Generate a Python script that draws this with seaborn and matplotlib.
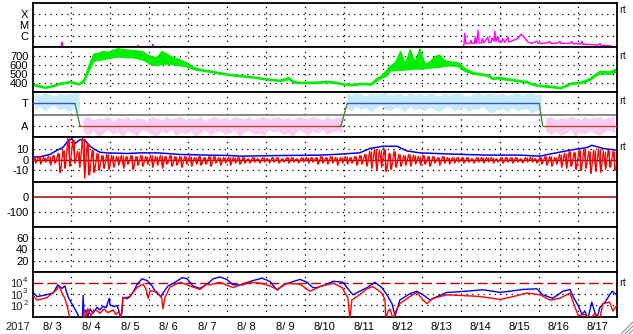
import numpy as np
import pandas as pd
import matplotlib
matplotlib.use("Agg")
import matplotlib.pyplot as plt
import seaborn as sns
from matplotlib.lines import Line2D
from matplotlib.ticker import NullLocator

sns.set_style("white")
plt.rcParams['font.family'] = ['Liberation Sans', 'DejaVu Sans']

# ---------------- data (time in days since 8/3 00:00) ----------------
day_labels = ['8/ 3', '8/ 4', '8/ 5', '8/ 6', '8/ 7', '8/ 8', '8/ 9', '8/10',
              '8/11', '8/12', '8/13', '8/14', '8/15', '8/16', '8/17']
year_label = '2017'

# X-ray flux (W/m^2)
xray_t = [0.0, 0.73, 0.75, 0.77, 0.79, 1.0, 1.01, 1.02, 2.70, 2.71, 2.72, 2.93, 2.94, 2.95,
          3.08, 3.09, 3.10, 3.39, 3.40, 3.41, 11.05, 11.08, 11.10, 11.13, 11.23, 11.26, 11.28,
          11.35, 11.37, 11.39, 11.41, 11.44, 11.47, 11.53, 11.55, 11.59, 11.69, 11.72, 11.78,
          11.80, 11.85, 11.87, 11.90, 11.95, 11.98, 12.05, 12.07, 12.13, 12.21, 12.23, 12.30,
          12.34, 12.40, 12.47, 12.54, 12.59, 12.65, 12.72, 12.82, 12.95, 12.98, 13.16, 13.29,
          13.31, 13.49, 13.54, 13.57, 13.80, 13.85, 13.88, 14.06, 14.11, 14.13, 14.32, 14.52,
          14.57, 14.60, 14.77, 14.88, 14.90, 15.0]
xray_v = [5e-8, 5e-8, 3e-7, 2.5e-7, 5e-8, 5e-8, 1.2e-7, 5e-8, 5e-8, 1.5e-7, 5e-8, 5e-8, 1.3e-7, 5e-8,
          5e-8, 1.9e-7, 5e-8, 5e-8, 1.3e-7, 5e-8, 5e-8, 2.2e-7, 1.8e-6, 2.2e-7, 2.3e-7, 4.3e-7, 2.3e-7,
          2.4e-7, 9e-7, 2.4e-7, 2.5e-7, 3.4e-6, 2.4e-7, 2.6e-7, 6e-7, 2.6e-7, 8e-7, 2.6e-7, 3e-7,
          7e-7, 3.5e-7, 2.8e-6, 3.5e-7, 9.8e-7, 3e-7, 3e-7, 6e-7, 2.8e-7, 8e-7, 3e-7, 3.5e-7,
          4.3e-7, 5e-7, 6.5e-7, 1.5e-6, 1.1e-6, 6e-7, 3e-7, 2.3e-7, 3.5e-7, 2.3e-7, 2.4e-7, 3.3e-7,
          2.2e-7, 2.4e-7, 3.5e-7, 2.3e-7, 2.2e-7, 3.3e-7, 2.1e-7, 2.0e-7, 3.5e-7, 1.9e-7, 1.8e-7, 1.6e-7,
          2.2e-7, 1.5e-7, 1.4e-7, 1.3e-7, 5e-8, 5e-8]

# Solar wind speed (km/s), 3-hour bins, upper/lower envelope
bin_step = 0.125
speed_hi = [390, 378, 362, 372, 385, 408, 412, 428, 415, 400, 445, 600, 730, 740, 760, 750, 775, 790, 780, 775,
            770, 765, 760, 720, 700, 690, 760, 730, 700, 680, 660, 635, 600, 572, 560, 550, 542, 532, 524, 515,
            505, 498, 492, 486, 482, 475, 466, 458, 452, 446, 440, 450, 468, 428, 418, 416, 418, 418, 420, 424,
            428, 422, 416, 402, 396, 392, 398, 405, 403, 400, 455, 485, 540, 600, 640, 760, 620, 780, 640, 790,
            620, 640, 700, 720, 660, 645, 640, 630, 580, 548, 525, 516, 508, 498, 462, 472, 464, 456, 448, 440,
            432, 426, 402, 388, 382, 378, 372, 366, 360, 384, 408, 414, 418, 436, 462, 505, 540, 535, 532, 560]
speed_lo = [375, 362, 350, 358, 372, 392, 398, 412, 400, 388, 420, 540, 650, 660, 670, 680, 690, 700, 695, 690,
            690, 680, 665, 640, 610, 605, 615, 620, 615, 605, 600, 590, 570, 552, 545, 536, 528, 518, 510, 500,
            492, 486, 480, 474, 468, 462, 454, 446, 440, 434, 428, 432, 448, 412, 404, 403, 402, 404, 405, 408,
            412, 408, 402, 388, 383, 378, 383, 390, 388, 385, 425, 460, 480, 545, 548, 550, 555, 560, 565, 565,
            568, 575, 580, 585, 595, 600, 598, 590, 545, 525, 505, 500, 492, 482, 446, 456, 446, 440, 432, 424,
            418, 410, 388, 372, 368, 362, 358, 350, 345, 368, 392, 398, 402, 415, 440, 480, 512, 508, 505, 525]

# IMF sector (T=+1, A=-1) and phi-angle cloud envelope
sector_t = [0.0, 1.09, 1.22, 7.92, 8.08, 13.01, 13.10, 15.0]
sector_v = [1, 1, -1, -1, 1, 1, -1, -1]
phi_hi = [1.9, 1.7, 1.95, 1.8, 1.6, 1.9, 1.75, 1.85, 1.95, 1.9,
          -0.3, -0.2, -0.5, -0.3, -0.4, -0.2, -0.6, -0.3, -0.4, -0.2,
          -0.5, -0.3, -0.4, -0.6, -0.2, -0.3, -0.5, -0.2, -0.4, -0.3,
          -0.2, -0.5, -0.3, -0.4, -0.2, -0.6, -0.3, -0.2, -0.4, -0.3,
          -0.5, -0.2, -0.3, -0.4, -0.2, -0.5, -0.3, -0.2, -0.4, -0.3,
          -0.2, -0.4, -0.3, -0.5, -0.2, -0.3, -0.4, -0.2, -0.3, -0.5,
          -0.2, -0.4, -0.3, -0.2,
          1.9, 1.7, 1.95, 1.8, 1.6, 1.9, 1.75, 1.85, 1.95, 1.7,
          1.8, 1.9, 1.6, 1.95, 1.75, 1.85, 1.7, 1.9, 1.8, 1.6,
          1.95, 1.7, 1.85, 1.9, 1.75, 1.6, 1.8, 1.95, 1.7, 1.9,
          1.85, 1.75, 1.9, 1.6, 1.8, 1.95, 1.7, 1.85, 1.9, 1.75, 1.8,
          -0.3, -0.2, -0.5, -0.3, -0.4, -0.2, -0.3, -0.5, -0.2, -0.4, -0.3, -0.2, -0.4, -0.3, -0.2]
phi_lo = [0.5, 0.8, 0.4, 0.7, 0.9, 0.5, 0.6, 0.3, 0.7, 0.2,
          -1.5, -1.8, -1.4, -1.9, -1.6, -1.3, -1.7, -1.5, -1.9, -1.4,
          -1.6, -1.8, -1.3, -1.5, -1.7, -1.9, -1.4, -1.6, -1.3, -1.8,
          -1.5, -1.7, -1.4, -1.9, -1.6, -1.3, -1.8, -1.5, -1.4, -1.7,
          -1.6, -1.3, -1.9, -1.5, -1.4, -1.7, -1.6, -1.8, -1.3, -1.5,
          -1.4, -1.7, -1.6, -1.9, -1.3, -1.5, -1.8, -1.4, -1.6, -1.3,
          -1.7, -1.5, -1.4, -1.6,
          0.6, 0.4, 0.8, 0.5, 0.7, 0.3, 0.6, 0.9, 0.5, 0.4,
          0.7, 0.6, 0.3, 0.8, 0.5, 0.6, 0.4, 0.7, 0.5, 0.3,
          0.6, 0.8, 0.4, 0.5, 0.7, 0.3, 0.6, 0.5, 0.8, 0.4,
          0.2, 0.5, 0.6, 0.3, 0.7, 0.4, 0.5, 0.6, 0.2, 0.4, 0.6,
          -1.5, -1.7, -1.4, -1.8, -1.6, -1.3, -1.9, -1.5, -1.7, -1.4, -1.6, -1.8, -1.5, -1.3, -1.6]

# IMF Bt and Bz (nT)
bt_t = [0.0, 0.19, 0.45, 0.63, 0.78, 0.89, 1.01, 1.09, 1.22, 1.35, 1.48, 1.60, 1.73, 1.91, 2.43,
        2.76, 3.20, 3.45, 3.79, 4.48, 4.99, 5.33, 5.84, 6.35, 6.87, 7.38, 7.89, 8.40, 8.66, 9.0,
        9.36, 9.61, 9.95, 10.8, 11.67, 12.52, 13.03, 13.36, 13.8, 14.24, 14.36, 14.65, 15.0]
bt = [2.5, 2.6, 4.8, 8.8, 11.3, 16.5, 19.6, 15, 18.7, 18, 12.5, 9.4, 6.9, 6.3, 5.7,
      6.3, 6.3, 5.7, 4.8, 4.2, 3.9, 3.2, 3.5, 3.8, 4.0, 4.2, 5.1, 6.3, 10.4, 12.5,
      12.5, 8.1, 6.3, 5.1, 4.2, 4.2, 3.2, 5.7, 8.8, 11.3, 13.4, 10.4, 8.8]
bz_hi = [2, 3, 2, 3, 4, 6, 9, 20, 18, 8, 20, 16, 9, 6, 4, 5, 4, 3, 4, 3,
         4, 3, 4, 3, 4, 3, 4, 3, 4, 3, 3, 3, 3, 2, 3, 2, 3, 3, 2, 2,
         2, 2, 2, 2, 1, 2, 1, 2, 1, 2, 2, 1, 2, 2, 1, 2, 2, 2, 2, 3,
         2, 3, 2, 2, 3, 2, 3, 4, 5, 8, 10, 9, 10, 6, 8, 5, 4, 5, 4, 3,
         4, 3, 3, 2, 3, 2, 2, 2, 2, 2, 1, 2, 2, 2, 2, 1, 2, 2, 2, 2,
         1, 2, 2, 1, 2, 3, 3, 2, 5, 6, 8, 7, 9, 10, 8, 9, 10, 8, 9, 8]
bz_lo = [-3, -4, -2, -5, -3, -12, -8, -6, -3, -7, -17, -14, -12, -10, -8, -9, -7, -5, -8, -4,
         -9, -5, -6, -4, -7, -5, -8, -4, -6, -5, -7, -4, -6, -4, -5, -4, -6, -3, -5, -3,
         -5, -3, -4, -3, -3, -2, -3, -2, -3, -2, -3, -2, -3, -2, -3, -2, -3, -2, -4, -3,
         -4, -3, -5, -3, -4, -3, -5, -4, -6, -8, -10, -7, -11, -9, -7, -6, -5, -6, -4, -5,
         -4, -6, -3, -5, -3, -4, -3, -2, -3, -2, -3, -2, -3, -2, -3, -2, -3, -2, -3, -2,
         -3, -2, -2, -3, -4, -5, -6, -4, -7, -8, -6, -9, -10, -8, -13, -11, -12, -9, -7, -10]

# Electron flux (log10 values), two channels
eb_t = [0.0, 0.12, 0.27, 0.53, 0.65, 0.76, 0.83, 0.91, 1.01, 1.14, 1.22, 1.28, 1.30, 1.32, 1.37,
        1.42, 1.48, 1.55, 1.66, 1.73, 1.81, 1.89, 1.97, 1.99, 2.09, 2.17, 2.22, 2.25, 2.30, 2.32,
        2.43, 2.50, 2.60, 2.68, 2.81, 2.94, 3.07, 3.15, 3.22, 3.30, 3.35, 3.48, 3.66, 3.84, 3.97,
        4.12, 4.30, 4.48, 4.64, 4.81, 4.89, 4.99, 5.15, 5.40, 5.58, 5.66, 5.84, 5.89, 6.10, 6.28,
        6.43, 6.69, 6.87, 7.05, 7.20, 7.30, 7.56, 7.72, 7.97, 8.15, 8.23, 8.40, 8.59, 8.79, 8.97,
        9.10, 9.23, 9.31, 9.43, 9.69, 9.87, 10.03, 10.21, 10.39, 10.64, 10.85, 11.23, 11.57, 12.0,
        12.26, 12.59, 12.95, 13.1, 13.36, 13.62, 13.80, 13.88, 14.01, 14.11, 14.18, 14.26, 14.36,
        14.49, 14.57, 14.70, 14.88, 15.0]
eb_log = [3.21, 2.79, 2.89, 3.11, 3.84, 3.52, 3.74, 2.79, 2.16, 1.36, 0.8, 0.8, 2.89, 1.2, 1.6,
          1.0, 1.7, 1.3, 1.84, 1.6, 1.93, 1.8, 2.64, 2.07, 1.9, 2.0, 1.5, 0.8, 1.4, 2.73,
          2.6, 2.79, 3.3, 3.84, 4.38, 4.22, 3.74, 3.27, 3.02, 2.79, 3.11, 3.74, 4.07, 4.48, 4.38,
          3.74, 3.52, 3.9, 4.38, 4.54, 4.45, 4.32, 3.84, 3.84, 4.13, 4.22, 4.38, 4.45, 4.13, 3.36,
          3.81, 4.13, 4.32, 4.07, 3.59, 3.59, 3.9, 4.16, 4.07, 3.27, 2.95, 3.27, 3.59, 4.07, 3.59,
          2.95, 2.16, 1.05, 2.48, 3.05, 3.27, 2.95, 2.48, 2.79, 3.17, 3.2, 3.3, 3.4, 3.17,
          3.27, 3.43, 3.49, 2.95, 2.64, 3.27, 3.43, 2.79, 2.0, 1.2, 1.52, 0.8, 2.3,
          0.8, 1.84, 2.3, 3.27, 2.95]
er_t = [0.0, 0.12, 0.37, 0.63, 0.68, 0.78, 0.83, 0.91, 0.96, 1.30, 1.32, 1.37, 1.42, 1.50, 1.58,
        1.66, 1.73, 1.84, 1.91, 1.99, 2.07, 2.14, 2.22, 2.27, 2.32, 2.50, 2.68, 2.84, 2.91, 2.97,
        3.02, 3.20, 3.32, 3.35, 3.40, 3.53, 3.79, 4.04, 4.30, 4.48, 4.56, 4.81, 5.15, 5.51, 5.84,
        6.10, 6.28, 6.53, 6.87, 7.12, 7.38, 7.72, 7.95, 8.10, 8.15, 8.20, 8.33, 8.59, 8.74, 8.97,
        9.05, 9.07, 9.13, 9.18, 9.26, 9.33, 9.43, 9.69, 9.87, 10.03, 10.13, 10.28, 10.64, 10.97,
        11.49, 12.0, 12.34, 12.69, 13.03, 13.29, 13.54, 13.80, 13.93, 14.01, 14.18, 14.31, 14.44,
        14.57, 14.64, 14.82, 14.90, 15.0]
er_log = [2.95, 2.48, 2.70, 3.43, 3.74, 2.95, 2.64, 1.68, 0.8, 0.8, 1.5, 0.9, 1.7, 1.1, 1.6,
          1.52, 1.3, 1.7, 1.4, 1.43, 1.6, 1.2, 1.5, 0.8, 2.64, 2.79, 3.59, 3.9, 3.5, 2.64,
          3.33, 3.21, 2.64, 1.7, 2.7, 3.65, 4.07, 3.74, 3.43, 3.9, 3.84, 4.07, 3.59, 4.07, 4.0,
          3.74, 3.43, 3.97, 3.9, 3.27, 3.68, 4.0, 3.59, 2.64, 0.8, 2.5, 2.79, 3.49, 3.68, 3.11,
          2.5, 0.8, 1.5, 1.68, 0.8, 1.5, 2.16, 2.79, 3.17, 2.48, 2.16, 2.64, 2.95, 2.9,
          2.8, 2.54, 2.79, 3.11, 2.95, 2.48, 2.64, 3.11, 1.84, 1.1, 1.2, 0.8, 1.3,
          0.8, 2.16, 2.3, 1.5, 2.0]
flux_ticks_exp = ['4', '3', '2']

# ---------------- figure layout ----------------
W, H = 633, 334
fig = plt.figure(figsize=(W / 100, H / 100), dpi=100)
L, R = 32.5, 616.7
TOP, BOT = 2.5, 316.7
NP = 7
ph = (BOT - TOP) / NP
axes = []
for k in range(NP):
    y0 = TOP + k * ph
    ax = fig.add_axes([L / W, 1 - (y0 + ph) / H, (R - L) / W, ph / H])
    ax.set_xlim(0, 15)
    for s in ax.spines.values():
        s.set_color('black')
        s.set_linewidth(1.3)
    ax.tick_params(axis='both', length=0, labelsize=8, pad=3, colors='black')
    for d in range(1, 15):
        ax.axvline(d, color='black', lw=0.9, ls=(0, (1, 3.5)), zorder=0.5)
    axes.append(ax)

DOT = dict(color='black', lw=0.9, ls=(0, (1, 3.5)), zorder=0.5)
bin_t = np.arange(len(speed_hi)) * bin_step + bin_step / 2


def line(ax, x, y, color, lw=1.0, z=2):
    sns.lineplot(x=np.asarray(x, float), y=np.asarray(y, float), ax=ax, color=color, lw=lw,
                 estimator=None, sort=False, legend=False, zorder=z)


def band(ax, lo, hi, color, z=2, lw=0.8):
    t = np.concatenate([[0.0], bin_t, [15.0]])
    lo = np.concatenate([[lo[0]], lo, [lo[-1]]])
    hi = np.concatenate([[hi[0]], hi, [hi[-1]]])
    ax.fill_between(t, lo, hi, color=color, lw=lw, edgecolor=color, zorder=z)


def spikes(ax, lo, hi, color, z=3, lw=0.9):
    # vertical extent in each bin plus the hi->lo->hi trace between bins
    lo = np.asarray(lo, float)
    hi = np.asarray(hi, float)
    ax.vlines(bin_t, lo, hi, color=color, lw=lw, zorder=z)
    tt = np.empty(2 * len(hi))
    vv = np.empty(2 * len(hi))
    tt[0::2] = bin_t - bin_step / 4
    tt[1::2] = bin_t + bin_step / 4
    vv[0::2] = hi
    vv[1::2] = lo
    line(ax, tt, vv, color, lw=lw, z=z)


# panel 1: X-ray
ax = axes[0]
ax.set_yscale('log')
ax.set_ylim(1e-7, 1e-3)
for v in [1e-4, 1e-5, 1e-6]:
    ax.axhline(v, **DOT)
line(ax, xray_t, xray_v, '#ff00ff', lw=1.0)
ax.set_yticks([1e-4, 1e-5, 1e-6])
ax.set_yticklabels(['X', 'M', 'C'])
ax.yaxis.set_minor_locator(NullLocator())

# panel 2: speed
ax = axes[1]
ax.set_ylim(300, 800)
for v in [400, 500, 600, 700]:
    ax.axhline(v, **DOT)
band(ax, speed_lo, speed_hi, '#00ee00', lw=1.0)
ax.set_yticks([700, 600, 500, 400])
ax.set_yticklabels(['700', '600', '500', '400'])

# panel 3: sector
ax = axes[2]
ax.set_ylim(-2, 2)
for v in [1, -1]:
    ax.axhline(v, **DOT)
hi_arr = np.asarray(phi_hi, float)
lo_arr = np.asarray(phi_lo, float)
sgn = np.sign(hi_arr)
start = 0
for i in range(1, len(sgn) + 1):
    if i == len(sgn) or sgn[i] != sgn[start]:
        idx = np.arange(start, i)
        col = '#c6ebf7' if sgn[start] > 0 else '#f7cdf2'
        ax.fill_between(bin_t[idx], lo_arr[idx], hi_arr[idx], color=col, lw=0.6,
                        edgecolor=col, zorder=1)
        start = i
ax.axhline(0, color='#808080', lw=1.3, zorder=1.5)
for i in range(len(sector_t) - 1):
    a, b = sector_v[i], sector_v[i + 1]
    col = '#3a4fd0' if (a == b == 1) else ('#c83a3a' if a == b else '#4a8a4a')
    line(ax, sector_t[i:i + 2], sector_v[i:i + 2], col, lw=1.0, z=3)
ax.set_yticks([1, -1])
ax.set_yticklabels(['T', 'A'])

# panel 4: Bt / Bz
ax = axes[3]
ax.set_ylim(-21, 21)
for v in [10, -10]:
    ax.axhline(v, **DOT)
ax.axhline(0, color='#a00000', lw=1.0, zorder=1)
line(ax, bt_t, bt, '#0000ff', lw=1.1, z=2)
spikes(ax, bz_lo, bz_hi, '#ff0000', z=3, lw=0.9)
ax.set_yticks([10, 0, -10])
ax.set_yticklabels(['10', '0', '-10'])

# panel 5: Dst (no data)
ax = axes[4]
ax.set_ylim(-200, 100)
ax.axhline(-100, **DOT)
ax.axhline(0, color='#a00000', lw=1.1, zorder=1)
ax.set_yticks([0, -100])
ax.set_yticklabels(['0', '-100'])

# panel 6: (no data)
ax = axes[5]
ax.set_ylim(0, 80)
for v in [20, 40, 60]:
    ax.axhline(v, **DOT)
ax.set_yticks([60, 40, 20])
ax.set_yticklabels(['60', '40', '20'])

# panel 7: electrons
ax = axes[6]
ax.set_yscale('log')
ax.set_ylim(10, 1e5)
for v in [1e2, 1e3]:
    ax.axhline(v, **DOT)
ax.axhline(1e4, color='#c00000', lw=1.0, ls=(0, (7, 3)), zorder=1)
line(ax, eb_t, 10 ** np.asarray(eb_log), '#0000ff', lw=1.0, z=2)
line(ax, er_t, 10 ** np.asarray(er_log), '#ff0000', lw=1.0, z=3)
ax.set_yticks([])
ax.yaxis.set_minor_locator(NullLocator())
ytr = ax.get_yaxis_transform()
fx = (22.5 - L) / (R - L)
for v, e in zip([1e4, 1e3, 1e2], flux_ticks_exp):
    ax.text(fx, v * 10 ** -0.13, '10', transform=ytr, ha='right', va='center', fontsize=8)
    ax.text(fx + 0.001, v * 10 ** 0.22, e, transform=ytr, ha='left', va='center', fontsize=5.5)

for ax in axes:
    ax.set_xlabel('')
    ax.set_ylabel('')
    ax.set_xticks([])
axes[-1].set_xticks(np.arange(0.5, 15, 1))
axes[-1].set_xticklabels(day_labels)
axes[-1].tick_params(axis='x', pad=4)

fig.text(18 / W, 1 - 327 / H, year_label, ha='center', va='center', fontsize=8)
for y in [10, 56, 101, 147, 283]:
    fig.text(619 / W, 1 - y / H, 'rt', ha='left', va='center', fontsize=8)

for k in [4, 8, 12]:
    fig.add_artist(Line2D([(W - k) / W, 1.0], [0.0, k / H], color='#909090', lw=0.8))

fig.savefig('out.png', dpi=100)
